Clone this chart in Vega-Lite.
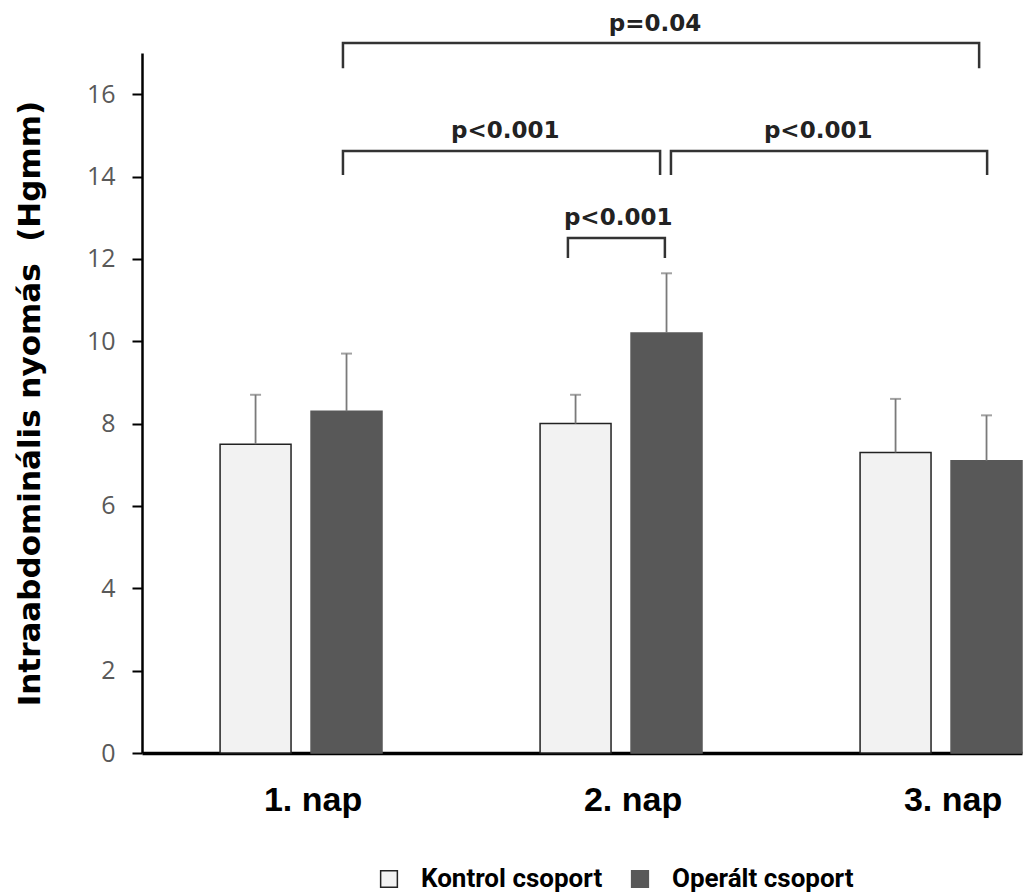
{
  "$schema": "https://vega.github.io/schema/vega-lite/v6.json",
  "autosize": {"type": "none"},
  "padding": {"left": 142, "top": 53, "right": 1, "bottom": 143},
  "width": 880,
  "height": 700,
  "background": "white",
  "config": {"view": {"stroke": null}},
  "datasets": {
    "bars": [
      {"day": "1. nap", "group": "Kontrol csoport", "mean": 7.5, "upper": 8.7},
      {"day": "1. nap", "group": "Operált csoport", "mean": 8.3, "upper": 9.7},
      {"day": "2. nap", "group": "Kontrol csoport", "mean": 8.0, "upper": 8.7},
      {"day": "2. nap", "group": "Operált csoport", "mean": 10.2, "upper": 11.65},
      {"day": "3. nap", "group": "Kontrol csoport", "mean": 7.3, "upper": 8.6},
      {"day": "3. nap", "group": "Operált csoport", "mean": 7.1, "upper": 8.2}
    ],
    "brackets": [
      {"id": "A", "pos": 1.131, "level": 16.63, "ord": 1},
      {"id": "A", "pos": 1.131, "level": 17.24, "ord": 2},
      {"id": "A", "pos": 3.119, "level": 17.24, "ord": 3},
      {"id": "A", "pos": 3.119, "level": 16.63, "ord": 4},
      {"id": "B", "pos": 1.131, "level": 14.04, "ord": 1},
      {"id": "B", "pos": 1.131, "level": 14.62, "ord": 2},
      {"id": "B", "pos": 2.122, "level": 14.62, "ord": 3},
      {"id": "B", "pos": 2.122, "level": 14.04, "ord": 4},
      {"id": "C", "pos": 2.156, "level": 14.04, "ord": 1},
      {"id": "C", "pos": 2.156, "level": 14.62, "ord": 2},
      {"id": "C", "pos": 3.144, "level": 14.62, "ord": 3},
      {"id": "C", "pos": 3.144, "level": 14.04, "ord": 4},
      {"id": "D", "pos": 1.834, "level": 12.02, "ord": 1},
      {"id": "D", "pos": 1.834, "level": 12.51, "ord": 2},
      {"id": "D", "pos": 2.137, "level": 12.51, "ord": 3},
      {"id": "D", "pos": 2.137, "level": 12.02, "ord": 4}
    ],
    "labels": [
      {"pos": 2.106, "level": 17.53, "label": "p=0.04"},
      {"pos": 1.638, "level": 14.93, "label": "p<0.001"},
      {"pos": 2.616, "level": 14.93, "label": "p<0.001"},
      {"pos": 1.991, "level": 12.82, "label": "p<0.001"}
    ]
  },
  "layer": [
    {
      "data": {"name": "bars"},
      "layer": [
        {
          "mark": {"type": "bar", "strokeWidth": 1.5},
          "encoding": {
            "x": {
              "field": "day", "type": "nominal",
              "scale": {"paddingInner": 0.494, "paddingOuter": 0.122, "align": 1},
              "axis": {
                "title": null, "ticks": false, "labelAngle": 0,
                "domainColor": "black", "domainWidth": 3.5,
                "labelFont": "Liberation Sans", "labelFontWeight": "bold", "labelFontSize": 34,
                "labelColor": "black", "labelPadding": 30, "labelOffset": 12
              }
            },
            "xOffset": {"field": "group", "type": "nominal", "scale": {"paddingInner": 0.22, "paddingOuter": 0}},
            "y": {
              "field": "mean", "type": "quantitative",
              "scale": {"domain": [0, 17], "nice": false},
              "axis": {
                "title": "Intraabdominális nyomás \u00a0(Hgmm)",
                "values": [0, 2, 4, 6, 8, 10, 12, 14, 16],
                "grid": false,
                "domainColor": "black", "domainWidth": 2.5,
                "tickColor": "black", "tickWidth": 2, "tickSize": 10,
                "labelFont": "Open Sans", "labelFontSize": 25, "labelColor": "#595959", "labelPadding": 17,
                "titleFont": "DejaVu Sans", "titleFontWeight": "bold", "titleFontSize": 31,
                "titleColor": "black", "titlePadding": 40
              }
            },
            "color": {
              "field": "group", "type": "nominal",
              "scale": {"range": ["#f2f2f2", "#585858"]},
              "legend": {
                "title": null, "orient": "none", "direction": "horizontal",
                "legendX": 234, "legendY": 813,
                "symbolType": "square", "symbolSize": 280, "symbolStrokeWidth": 1.5,
                "labelFont": "Roboto", "labelFontWeight": "bold", "labelFontSize": 26,
                "labelColor": "black", "labelOffset": 19, "columnPadding": 24, "labelLimit": 400
              }
            },
            "stroke": {
              "field": "group", "type": "nominal",
              "scale": {"range": ["#222222", "#585858"]}
            }
          }
        },
        {
          "mark": {"type": "rule", "color": "#7a7a7a", "strokeWidth": 1.8},
          "encoding": {
            "x": {"field": "day", "type": "nominal"},
            "xOffset": {"field": "group", "type": "nominal"},
            "y": {"field": "mean", "type": "quantitative"},
            "y2": {"field": "upper"}
          }
        },
        {
          "mark": {"type": "tick", "color": "#7a7a7a", "thickness": 2, "size": 11, "orient": "horizontal"},
          "encoding": {
            "x": {"field": "day", "type": "nominal"},
            "xOffset": {"field": "group", "type": "nominal"},
            "y": {"field": "upper", "type": "quantitative"}
          }
        }
      ]
    },
    {
      "data": {"name": "brackets"},
      "mark": {"type": "line", "color": "#333333", "strokeWidth": 2.5, "strokeJoin": "miter"},
      "encoding": {
        "x": {"field": "pos", "type": "quantitative", "scale": {"domain": [0.503, 3.253], "nice": false, "zero": false}, "axis": null},
        "y": {"field": "level", "type": "quantitative"},
        "detail": {"field": "id"},
        "order": {"field": "ord"}
      }
    },
    {
      "data": {"name": "labels"},
      "mark": {"type": "text", "font": "DejaVu Sans", "fontWeight": "bold", "fontSize": 23, "color": "#222222", "baseline": "alphabetic", "align": "center"},
      "encoding": {
        "x": {"field": "pos", "type": "quantitative", "scale": {"domain": [0.503, 3.253], "nice": false, "zero": false}, "axis": null},
        "y": {"field": "level", "type": "quantitative"},
        "text": {"field": "label"}
      }
    }
  ],
  "resolve": {"scale": {"x": "independent"}}
}
